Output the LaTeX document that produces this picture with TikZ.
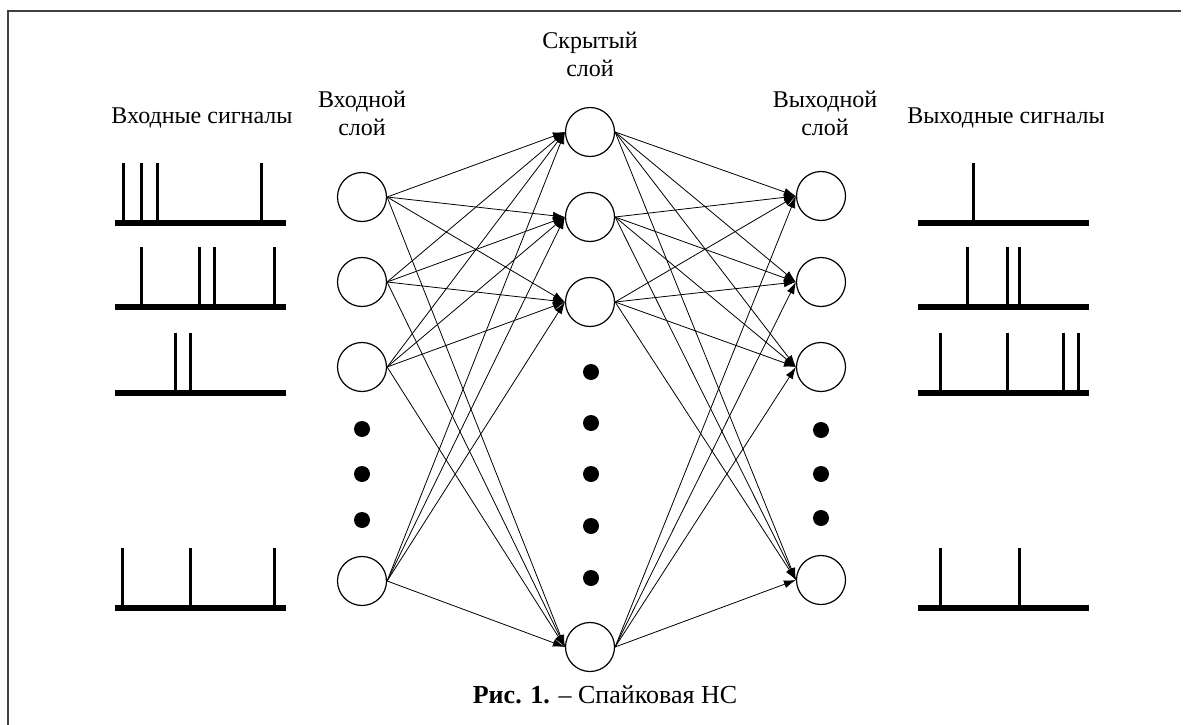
\documentclass[tikz,border=0pt]{standalone}
\usepackage{fontspec}
\setmainfont{Liberation Serif}
\usetikzlibrary{arrows.meta}

\tikzset{
  neuron/.style={circle,draw=black,line width=1.2pt,minimum size=49pt,inner sep=0pt},
  dotnode/.style={circle,fill=black,minimum size=16pt,inner sep=0pt},
  syn/.style={line width=0.8pt,-{Latex[length=12pt,width=8pt]}},
  sigbase/.style={line width=6pt},
  spike/.style={line width=3pt},
  lbl/.style={font=\fontsize{24}{28}\selectfont,align=center,inner sep=0pt,anchor=base},
}

% left end, baseline, spike positions
\newcommand{\spiketrain}[3]{%
  \draw[sigbase] (#1,#2) -- ++(171,0);
  \foreach \sx in {#3} \draw[spike] (\sx,#2) -- ++(0,-60);
}

\begin{document}
\begin{tikzpicture}[x=1pt,y=-1pt]
\useasboundingbox (0,0) rectangle (1189,725);
\draw[line width=1.2pt,color=black!75] (8,725) -- (8,11) -- (1181,11);

% labels (base = last line)
\node[lbl] (inSig)  at (202,123) {Входные сигналы};
\node[lbl] (outSig) at (1006,123) {Выходные сигналы};
\node[lbl] (inLay)  at (362,135) {Входной\\слой};
\node[lbl] (hidLay) at (590,77) {Скрытый\\слой};
\node[lbl] (outLay) at (825,135) {Выходной\\слой};
\node[lbl,font=\fontsize{26}{30}\selectfont] (caption) at (605,703) {\textbf{Рис. 1.} – Спайковая НС};

% input layer
\node[neuron] (in1) at (362,197) {};
\node[neuron] (in2) at (362,282) {};
\node[neuron] (in3) at (362,367) {};
\node[neuron] (in4) at (362,581) {};
\foreach \k/\y in {1/429,2/474,3/520}
  \node[dotnode] (idot\k) at (362,\y) {};

% hidden layer
\node[neuron] (hid1) at (590,132) {};
\node[neuron] (hid2) at (590,217) {};
\node[neuron] (hid3) at (590,302) {};
\node[neuron] (hid4) at (590,647) {};
\foreach \k/\y in {1/372,2/423,3/474,4/526,5/578}
  \node[dotnode] (hdot\k) at (591,\y) {};

% output layer
\node[neuron] (out1) at (821,196) {};
\node[neuron] (out2) at (821,282) {};
\node[neuron] (out3) at (821,367) {};
\node[neuron] (out4) at (821,580) {};
\foreach \k/\y in {1/430,2/474,3/518}
  \node[dotnode] (odot\k) at (821,\y) {};

% connections
\foreach \i in {1,...,4}
  \foreach \j in {1,...,4} {
    \draw[syn] (in\i.east) -- (hid\j.west);
    \draw[syn] (hid\i.east) -- (out\j.west);
  }

% input spike trains
\spiketrain{115}{223}{123,141,157,261}
\spiketrain{115}{307}{141,199,214,274}
\spiketrain{115}{393}{175,190}
\spiketrain{115}{608}{122,190,274}

% output spike trains
\spiketrain{918}{223}{973}
\spiketrain{918}{307}{967,1007,1019}
\spiketrain{918}{393}{940,1007,1063,1078}
\spiketrain{918}{608}{940,1019}
\end{tikzpicture}
\end{document}
